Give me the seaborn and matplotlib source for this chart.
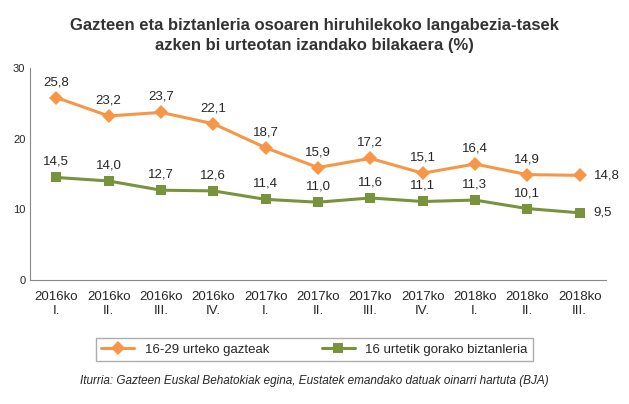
import matplotlib
matplotlib.use("Agg")
import matplotlib.pyplot as plt
import seaborn as sns
import pandas as pd

periods = ["2016ko\nI.", "2016ko\nII.", "2016ko\nIII.", "2016ko\nIV.", "2017ko\nI.", "2017ko\nII.",
           "2017ko\nIII.", "2017ko\nIV.", "2018ko\nI.", "2018ko\nII.", "2018ko\nIII."]
gazteak = [25.8, 23.2, 23.7, 22.1, 18.7, 15.9, 17.2, 15.1, 16.4, 14.9, 14.8]
biztanleria = [14.5, 14.0, 12.7, 12.6, 11.4, 11.0, 11.6, 11.1, 11.3, 10.1, 9.5]
names = ["16-29 urteko gazteak", "16 urtetik gorako biztanleria"]

sns.set_style("white")
plt.rcParams["font.family"] = ["Liberation Sans", "DejaVu Sans"]

df = pd.DataFrame({"x": list(range(len(periods))) * 2,
                   "v": gazteak + biztanleria,
                   "s": [names[0]] * len(periods) + [names[1]] * len(periods)})

fig = plt.figure(figsize=(6.29, 4.04), dpi=100)
ax = fig.add_axes([0.048, 0.307, 0.915, 0.525])
colors = {names[0]: "#F79646", names[1]: "#77933C"}
sns.lineplot(data=df, x="x", y="v", hue="s", style="s", palette=colors,
             markers={names[0]: "D", names[1]: "s"}, dashes=False, linewidth=2.2,
             markersize=7, markeredgewidth=0, ax=ax)
ax.set_xlim(-0.5, len(periods) - 0.5)
ax.set_ylim(0, 30)
ax.set_yticks([0, 10, 20, 30])
ax.set_xticks(range(len(periods)))
ax.set_xticklabels(periods, fontsize=9.5)
ax.tick_params(axis="y", labelsize=8, length=0)
ax.tick_params(axis="x", length=0, pad=8)
ax.set_xlabel(""); ax.set_ylabel("")
for s in ["top", "right"]:
    ax.spines[s].set_visible(False)
ax.spines["left"].set_color("#888888")
ax.spines["bottom"].set_color("#888888")

for i, v in enumerate(gazteak):
    if i == len(gazteak) - 1:
        ax.annotate(f"{v:.1f}".replace(".", ","), (i, v), xytext=(10, 0), textcoords="offset points",
                    va="center", fontsize=9.5)
    else:
        ax.annotate(f"{v:.1f}".replace(".", ","), (i, v), xytext=(0, 9), textcoords="offset points",
                    ha="center", fontsize=9.5)
for i, v in enumerate(biztanleria):
    if i == len(biztanleria) - 1:
        ax.annotate(f"{v:.1f}".replace(".", ","), (i, v), xytext=(10, 0), textcoords="offset points",
                    va="center", fontsize=9.5)
    else:
        ax.annotate(f"{v:.1f}".replace(".", ","), (i, v), xytext=(0, 9), textcoords="offset points",
                    ha="center", fontsize=9.5)

ax.legend_.remove()
h, l = ax.get_legend_handles_labels()
fig.legend(h, l, loc="center", bbox_to_anchor=(0.5, 0.135), ncol=2, frameon=True,
           fancybox=False, edgecolor="#999999", fontsize=9.5, columnspacing=4, handlelength=2.5)

fig.text(0.5, 0.955, "Gazteen eta biztanleria osoaren hiruhilekoko langabezia-tasek\nazken bi urteotan izandako bilakaera (%)",
         ha="center", va="top", fontsize=12, fontweight="bold", color="#333333", linespacing=1.4)
fig.text(0.5, 0.05, "Iturria: Gazteen Euskal Behatokiak egina, Eustatek emandako datuak oinarri hartuta (BJA)",
         ha="center", fontsize=8.5, style="italic")
fig.savefig("out.png", dpi=100)
